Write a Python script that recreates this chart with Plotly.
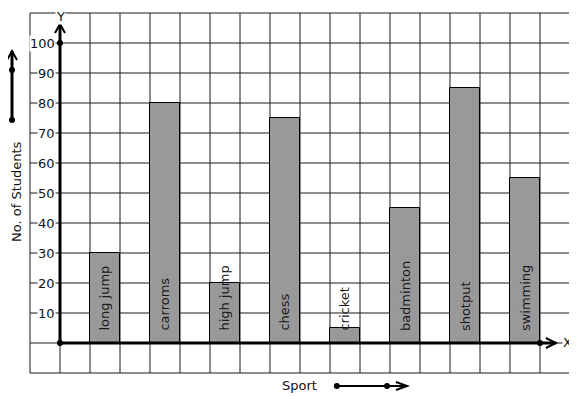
import plotly.graph_objects as go

sports = ["long jump", "carroms", "high jump", "chess", "cricket", "badminton", "shotput", "swimming"]
students = [30, 80, 20, 75, 5, 45, 85, 55]
y_ticks = [10, 20, 30, 40, 50, 60, 70, 80, 90, 100]

# bar positions: one grid cell wide, one empty cell between bars
xpos = [1.5 + 2 * i for i in range(len(sports))]

FONT = "DejaVu Sans"
fig = go.Figure()

# page body has an 8px margin: figure pixel = screen pixel - 8
W, H = 569, 391
X0 = -52 / 30          # left edge of figure in x units
Y1 = 335 / 3           # top edge of figure in y units

# grid
shapes = []
for u in range(-1, 18):
    shapes.append(dict(type="line", x0=u, x1=u, y0=-10, y1=110, layer="below",
                       line=dict(color="#1a1a1a", width=1)))
for v in range(-10, 111, 10):
    shapes.append(dict(type="line", x0=-1, x1=17, y0=v, y1=v, layer="below",
                       line=dict(color="#1a1a1a", width=1)))

fig.add_trace(go.Bar(x=xpos, y=students, width=1,
                     marker=dict(color="#999999", line=dict(color="#000000", width=1)),
                     hoverinfo="skip", showlegend=False))

# axes lines
px_u = 1 / 30.0   # one pixel in x units
px_v = 1 / 3.0    # one pixel in y units
y_top = 106.3
x_end = 16.53
shapes.append(dict(type="line", x0=0, x1=0, y0=0, y1=y_top, line=dict(color="black", width=3)))
shapes.append(dict(type="path",
                   path=f"M {-5*px_u} {y_top-9*px_v} L 0 {y_top} L {5*px_u} {y_top-9*px_v}",
                   line=dict(color="black", width=2)))
shapes.append(dict(type="line", x0=0, x1=x_end, y0=0, y1=0, line=dict(color="black", width=3)))
shapes.append(dict(type="path",
                   path=f"M {x_end-10*px_u} {5*px_v} L {x_end} 0 L {x_end-10*px_u} {-5*px_v}",
                   line=dict(color="black", width=2)))

# left arrow
lx = -1.6
shapes.append(dict(type="line", x0=lx, x1=lx, y0=74.33, y1=97.3, line=dict(color="black", width=3)))
shapes.append(dict(type="path",
                   path=f"M {lx-5*px_u} {97.3-9*px_v} L {lx} {97.3} L {lx+5*px_u} {97.3-9*px_v}",
                   line=dict(color="black", width=2)))
# bottom arrow
by = -14.33
shapes.append(dict(type="line", x0=9.23, x1=11.5, y0=by, y1=by, line=dict(color="black", width=2)))
shapes.append(dict(type="path",
                   path=f"M {11.5-9*px_u} {by+4*px_v} L 11.57 {by} L {11.5-9*px_u} {by-4*px_v}",
                   line=dict(color="black", width=2)))

fig.add_trace(go.Scatter(x=[0, 0, 16, lx, lx, 9.23, 10.9], y=[0, 100, 0, 91, 74.33, by, by],
                         mode="markers", marker=dict(color="black", size=6),
                         hoverinfo="skip", showlegend=False))

ann = []
for x, s in zip(xpos, sports):
    ann.append(dict(x=x, y=3.3, text=s, textangle=-90, showarrow=False,
                    xanchor="center", yanchor="bottom",
                    font=dict(family=FONT, size=13, color="#1a1a1a")))
for t in y_ticks:
    ann.append(dict(x=-4 * px_u, y=t, text=str(t), showarrow=False, xanchor="right", yanchor="middle",
                    bgcolor="white", borderpad=0, font=dict(family=FONT, size=13, color="#111111")))
ann.append(dict(x=0, y=Y1, text="Y", showarrow=False, yanchor="top", bgcolor="white", borderpad=0,
                font=dict(family=FONT, size=13, color="#111111")))
ann.append(dict(x=16.9, y=0.3, text="X", showarrow=False, bgcolor="white", borderpad=0,
                font=dict(family=FONT, size=13, color="#111111")))
ann.append(dict(x=X0, y=50.5, text="No. of Students", textangle=-90, showarrow=False,
                xanchor="left", borderpad=0,
                font=dict(family=FONT, size=13, color="#111111")))
ann.append(dict(x=7.97, y=-14, text="Sport", showarrow=False,
                font=dict(family=FONT, size=13, color="#111111")))

fig.update_layout(
    width=W, height=H,
    margin=dict(l=0, r=0, t=0, b=0),
    paper_bgcolor="white", plot_bgcolor="white",
    xaxis=dict(range=[X0, X0 + W / 30], visible=False, fixedrange=True),
    yaxis=dict(range=[Y1 - H / 3, Y1], visible=False, fixedrange=True),
    shapes=shapes, annotations=ann, bargap=0,
)
fig.write_html("out.html")
